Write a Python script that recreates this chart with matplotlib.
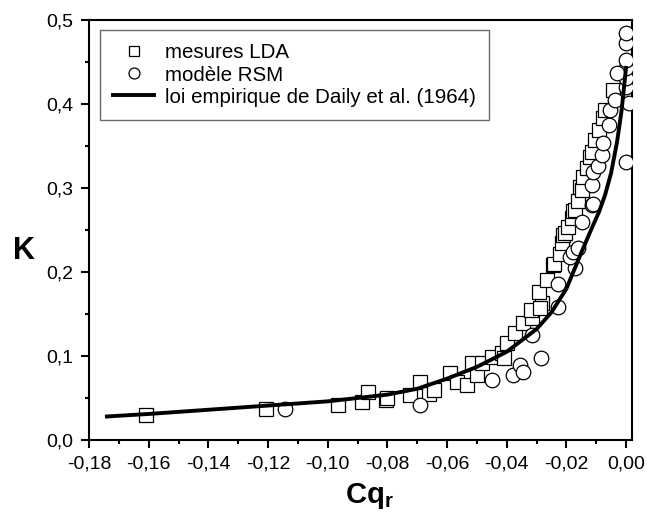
import matplotlib.pyplot as plt
from matplotlib.ticker import MultipleLocator

# mesures LDA (carrés)
lda_cq = [-0.161, -0.1207, -0.0966, -0.0885, -0.0865, -0.0805, -0.080, -0.0725, -0.0691,
          -0.066, -0.0644, -0.059, -0.0567, -0.0534, -0.0517, -0.050, -0.0483, -0.045,
          -0.0416, -0.041, -0.040, -0.0373, -0.0346, -0.0316, -0.032, -0.028, -0.029,
          -0.0292, -0.0266, -0.0246, -0.024, -0.022, -0.0216, -0.0212, -0.0206, -0.0196,
          -0.0182, -0.0179, -0.0172, -0.016, -0.0155, -0.0149, -0.0145, -0.0132, -0.0122,
          -0.0115, -0.0105, -0.009, -0.0078, -0.0072, -0.0045, 0.0004, 0.0004, 0.0004]
lda_k = [0.030, 0.037, 0.042, 0.045, 0.057, 0.048, 0.050, 0.054, 0.069,
         0.055, 0.060, 0.080, 0.069, 0.065, 0.092, 0.077, 0.092, 0.099,
         0.103, 0.098, 0.115, 0.127, 0.139, 0.145, 0.155, 0.163, 0.157,
         0.176, 0.190, 0.208, 0.210, 0.222, 0.234, 0.244, 0.246, 0.254,
         0.264, 0.273, 0.274, 0.285, 0.301, 0.298, 0.313, 0.324, 0.337,
         0.343, 0.357, 0.369, 0.383, 0.393, 0.417, 0.412, 0.425, 0.438]

# modèle RSM (cercles)
rsm_cq = [-0.1143, -0.0691, -0.045, -0.038, -0.0356, -0.0346, -0.0286, -0.0316,
          -0.0229, -0.0229, -0.0172, -0.0189, -0.0179, -0.0162, -0.0149, -0.0115,
          -0.0115, -0.011, -0.0112, -0.0095, 0.0, -0.0082, -0.0078, -0.0058,
          -0.0055, 0.001, -0.0037, 0.0, 0.0, 0.0, -0.003, 0.0, 0.0, 0.0]
rsm_k = [0.037, 0.042, 0.071, 0.077, 0.089, 0.081, 0.098, 0.125,
         0.158, 0.186, 0.205, 0.218, 0.224, 0.228, 0.260, 0.280,
         0.304, 0.281, 0.319, 0.326, 0.331, 0.339, 0.354, 0.375,
         0.393, 0.401, 0.405, 0.420, 0.431, 0.443, 0.437, 0.452, 0.473, 0.485]

# loi empirique de Daily et al. (1964)
daily_cq = [-0.174, -0.16, -0.14, -0.12, -0.10, -0.08, -0.07, -0.06, -0.05, -0.04,
            -0.03, -0.025, -0.02, -0.015, -0.0115, -0.009, -0.007, -0.005, -0.003,
            -0.0015, 0.0]
daily_k = [0.028, 0.031, 0.036, 0.041, 0.046, 0.054, 0.061, 0.073, 0.087, 0.105,
           0.132, 0.152, 0.180, 0.223, 0.252, 0.272, 0.292, 0.318, 0.355,
           0.392, 0.443]

xticks = [-0.18, -0.16, -0.14, -0.12, -0.10, -0.08, -0.06, -0.04, -0.02, 0.00]
xlabels = ['-0,18', '-0,16', '-0,14', '-0,12', '-0,10', '-0,08', '-0,06', '-0,04', '-0,02', '0,00']
yticks = [0.0, 0.1, 0.2, 0.3, 0.4, 0.5]
ylabels = ['0,0', '0,1', '0,2', '0,3', '0,4', '0,5']

plt.rcParams['font.family'] = ['Liberation Sans', 'DejaVu Sans']

fig = plt.figure(figsize=(6.47, 5.22), dpi=100)
ax = fig.add_axes([89 / 647, 82 / 522, 543 / 647, 420 / 522])

ax.plot(lda_cq, lda_k, 's', ms=9.5, mfc='white', mec='black', mew=0.9,
        label='mesures LDA', zorder=2)
ax.plot(rsm_cq, rsm_k, 'o', ms=10.5, mfc='white', mec='black', mew=0.9,
        label='modèle RSM', zorder=3)
ax.plot(daily_cq, daily_k, '-', color='black', lw=2.8,
        label='loi empirique de Daily et al. (1964)', zorder=4)

ax.set_xlim(-0.18, 0.002)
ax.set_ylim(0, 0.5)
ax.set_xticks(xticks)
ax.set_xticklabels(xlabels, fontsize=14)
ax.set_yticks(yticks)
ax.set_yticklabels(ylabels, fontsize=14)
ax.xaxis.set_minor_locator(MultipleLocator(0.01))
ax.yaxis.set_minor_locator(MultipleLocator(0.05))
ax.tick_params(which='major', direction='out', length=5.5, width=1.5, pad=5.5)
ax.tick_params(which='minor', direction='out', length=3, width=1.5)
for s in ax.spines.values():
    s.set_linewidth(1.5)

ax.set_xlabel('Cq$_\\mathregular{r}$', fontsize=21, fontweight='bold', va='center')
ax.xaxis.set_label_coords(0.517, -0.133)
ax.set_ylabel('K', fontsize=22, fontweight='bold', rotation=0, va='center', ha='center')
ax.yaxis.set_label_coords(-0.12, 0.45)

leg = ax.legend(loc='upper left', bbox_to_anchor=(0.02, 0.976), fontsize=14.8,
                frameon=True, fancybox=False, edgecolor='#444444', handlelength=2.0,
                handletextpad=0.5, borderpad=0.65, labelspacing=0.15, borderaxespad=0,
                markerscale=0.75)
leg.get_frame().set_linewidth(1.0)

fig.savefig('out.png', dpi=100)
